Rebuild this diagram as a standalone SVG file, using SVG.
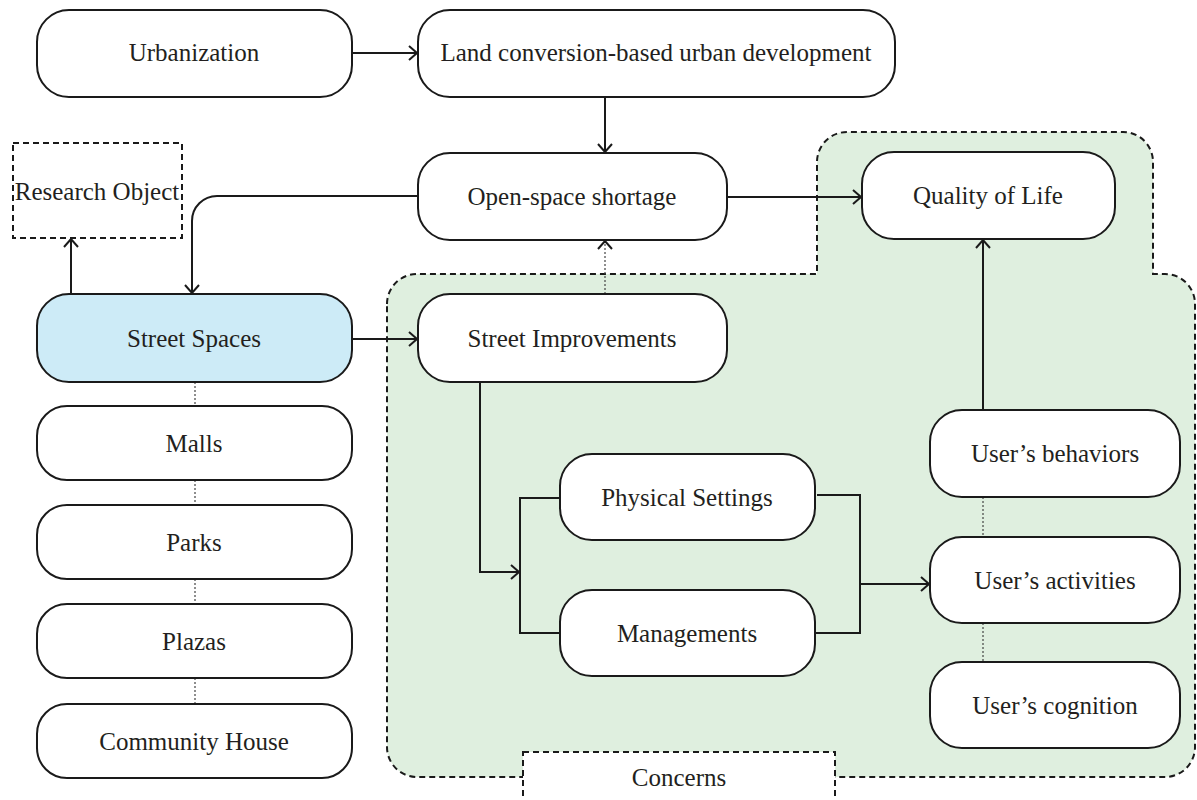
<svg xmlns="http://www.w3.org/2000/svg" width="1197" height="800" viewBox="0 0 1197 800">
  <style>
    .box { fill: #ffffff; stroke: #1a1a1a; stroke-width: 2; }
    .hl { fill: #cdebf7; }
    .dash { fill: #ffffff; stroke: #1a1a1a; stroke-width: 2; stroke-dasharray: 6 4; }
    .region { fill: #dfefdf; stroke: #1a1a1a; stroke-width: 2; stroke-dasharray: 6 4; }
    .lbl { font-family: "Liberation Serif", "DejaVu Serif", serif; font-size: 25px; fill: #231f20; text-anchor: middle; }
    .edge { fill: none; stroke: #1a1a1a; stroke-width: 2; }
    .dot { fill: none; stroke: #444; stroke-width: 1.2; stroke-dasharray: 2 2; }
  </style>
  <defs>
    <marker id="arr" viewBox="0 0 10 16" refX="9" refY="8" markerWidth="10" markerHeight="16" orient="auto" markerUnits="userSpaceOnUse">
      <path d="M1,1 L9,8 L1,15" fill="none" stroke="#1a1a1a" stroke-width="2"/>
    </marker>
  </defs>

  <!-- shaded "concerns" region -->
  <g id="concerns-region">
    <path class="region" d="M387 304 A30 30 0 0 1 417 274 H817 V162 A30 30 0 0 1 847 132 H1123 A30 30 0 0 1 1153 162 V274 H1165 A30 30 0 0 1 1195 304 V747 A30 30 0 0 1 1165 777 H417 A30 30 0 0 1 387 747 Z"/>
  </g>

  <!-- connectors -->
  <g id="connectors">
    <path class="edge" d="M352 53 H417" marker-end="url(#arr)"/>
    <path class="edge" d="M605 97 V152" marker-end="url(#arr)"/>
    <path class="edge" d="M727 197 H861" marker-end="url(#arr)"/>
    <path class="edge" d="M418 196 H217 A25 25 0 0 0 192 221 V293" marker-end="url(#arr)"/>
    <path class="edge" d="M71 313 V239" marker-end="url(#arr)"/>
    <path class="edge" d="M352 339 H417" marker-end="url(#arr)"/>
    <path class="dot" d="M605 294 V244"/>
    <path class="edge" d="M605 243 V241" marker-end="url(#arr)"/>
    <path class="edge" d="M480 382 V572 H519" marker-end="url(#arr)"/>
    <path class="edge" d="M560 498 H520 V633 H560"/>
    <path class="edge" d="M817 495 H860 V633 H815"/>
    <path class="edge" d="M860 584 H929" marker-end="url(#arr)"/>
    <path class="edge" d="M983 410 V240" marker-end="url(#arr)"/>
    <path class="dot" d="M983 497 V537 M983 623 V662"/>
    <path class="dot" d="M195 382 V406 M195 480 V505 M195 579 V604 M195 678 V704"/>
  </g>

  <g id="urbanization">
    <rect class="box" x="37" y="10" width="315" height="87" rx="32"/>
    <text class="lbl" x="194" y="61">Urbanization</text>
  </g>
  <g id="land-conversion">
    <rect class="box" x="418" y="10" width="477" height="87" rx="32"/>
    <text class="lbl" x="656" y="61">Land conversion-based urban development</text>
  </g>
  <g id="research-object">
    <rect class="dash" x="13" y="143" width="169" height="95"/>
    <text class="lbl" x="97" y="200">Research Object</text>
  </g>
  <g id="open-space-shortage">
    <rect class="box" x="418" y="153" width="309" height="87" rx="32"/>
    <text class="lbl" x="572" y="205">Open-space shortage</text>
  </g>
  <g id="quality-of-life">
    <rect class="box" x="862" y="152" width="253" height="87" rx="32"/>
    <text class="lbl" x="988" y="204">Quality of Life</text>
  </g>
  <g id="street-spaces">
    <rect class="box hl" x="37" y="294" width="315" height="88" rx="32"/>
    <text class="lbl" x="194" y="347">Street Spaces</text>
  </g>
  <g id="street-improvements">
    <rect class="box" x="418" y="294" width="309" height="88" rx="32"/>
    <text class="lbl" x="572" y="347">Street Improvements</text>
  </g>
  <g id="malls">
    <rect class="box" x="37" y="406" width="315" height="74" rx="30"/>
    <text class="lbl" x="194" y="452">Malls</text>
  </g>
  <g id="parks">
    <rect class="box" x="37" y="505" width="315" height="74" rx="30"/>
    <text class="lbl" x="194" y="551">Parks</text>
  </g>
  <g id="plazas">
    <rect class="box" x="37" y="604" width="315" height="74" rx="30"/>
    <text class="lbl" x="194" y="650">Plazas</text>
  </g>
  <g id="community-house">
    <rect class="box" x="37" y="704" width="315" height="74" rx="30"/>
    <text class="lbl" x="194" y="750">Community House</text>
  </g>
  <g id="physical-settings">
    <rect class="box" x="560" y="454" width="255" height="86" rx="32"/>
    <text class="lbl" x="687" y="506">Physical Settings</text>
  </g>
  <g id="managements">
    <rect class="box" x="560" y="590" width="255" height="86" rx="32"/>
    <text class="lbl" x="687" y="642">Managements</text>
  </g>
  <g id="users-behaviors">
    <rect class="box" x="930" y="410" width="250" height="87" rx="32"/>
    <text class="lbl" x="1055" y="462">User’s behaviors</text>
  </g>
  <g id="users-activities">
    <rect class="box" x="930" y="537" width="250" height="86" rx="32"/>
    <text class="lbl" x="1055" y="589">User’s activities</text>
  </g>
  <g id="users-cognition">
    <rect class="box" x="930" y="662" width="250" height="86" rx="32"/>
    <text class="lbl" x="1055" y="714">User’s cognition</text>
  </g>
  <g id="concerns">
    <rect class="dash" x="523" y="752" width="312" height="60"/>
    <text class="lbl" x="679" y="786">Concerns</text>
  </g>
</svg>
